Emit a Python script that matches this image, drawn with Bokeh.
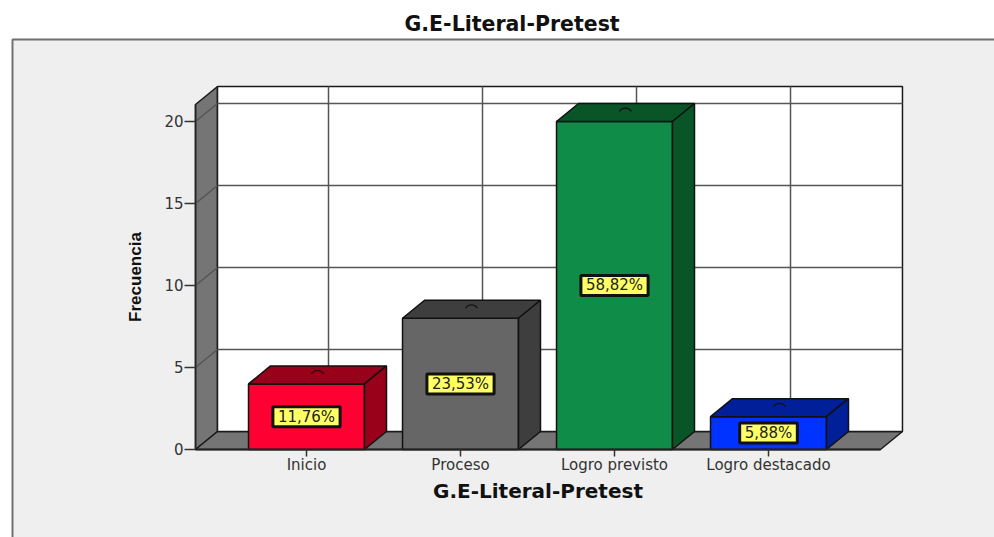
from bokeh.plotting import figure
from bokeh.models import ColumnDataSource, FixedTicker, LinearAxis, Range1d
from bokeh.core.properties import value
from bokeh.embed import file_html
from bokeh.resources import INLINE

categories = ["Inicio", "Proceso", "Logro previsto", "Logro destacado"]
frequencies = [4, 8, 20, 2]
percent_labels = ["11,76%", "23,53%", "58,82%", "5,88%"]
face_colors = ["#ff0033", "#666666", "#0f8c47", "#0033ff"]
shade_colors = ["#990019", "#3e3e3e", "#0a5528", "#001f99"]
y_ticks = [0, 5, 10, 15, 20]
title_text = "G.E-Literal-Pretest"
y_title = "Frecuencia"

# Chart geometry in data units
Y_TOP = 22.134
BAR_W = 0.753
DX, DY = 0.1429, 1.0976
X0, X1 = -0.7208, 3.727
XMIN, XMAX = -1.987, 4.4675
YMIN, YMAX = -5.366, 25.18
WIDE = "DejaVu Sans"

p = figure(width=994, height=537, output_backend="svg", toolbar_location=None,
           x_axis_location=None, y_axis_location=None,
           x_range=Range1d(XMIN, XMAX), y_range=Range1d(YMIN, YMAX),
           min_border=0, min_border_top=36, background_fill_color="white",
           border_fill_color="white", outline_line_color=None,
           title=title_text)
p.grid.visible = False
p.title.text_font = WIDE
p.title.text_font_size = "20.5px"
p.title.text_font_style = "bold"
p.title.text_color = "#111111"
p.title.align = "left"
p.title.offset = 404
p.title.vertical_align = "bottom"
p.title.standoff = 1

# grey chart panel, its right and bottom sides run off the page
p.patch([XMIN + 12 / 154, XMAX + 1, XMAX + 1, XMIN + 12 / 154],
        [YMAX - 3 / 16.4, YMAX - 3 / 16.4, YMIN - 1, YMIN - 1],
        fill_color="#efefef", line_color="#707070", line_width=2)

WALL = dict(fill_color="#757575", line_color="#1a1a1a", line_width=1.5)
# left wall and floor
p.patch([X0, X0 + DX, X0 + DX, X0], [0, DY, Y_TOP, Y_TOP - DY], **WALL)
p.patch([X0, X0 + DX, X1 + DX, X1], [0, DY, DY, 0], **WALL)
# back wall
p.patch([X0 + DX, X1 + DX, X1 + DX, X0 + DX], [DY, DY, Y_TOP, Y_TOP],
        fill_color="white", line_color="#1a1a1a", line_width=1.5)

GRID = dict(line_color="#555555", line_width=1.5)
grid_vals = [t for t in y_ticks if t > 0]
p.segment([X0 + DX] * len(grid_vals), [t + DY for t in grid_vals],
          [X1 + DX] * len(grid_vals), [t + DY for t in grid_vals], **GRID)
p.segment([X0] * len(grid_vals), grid_vals,
          [X0 + DX] * len(grid_vals), [t + DY for t in grid_vals], **GRID)
positions = list(range(len(categories)))
p.segment([i + DX for i in positions], [DY] * len(positions),
          [i + DX for i in positions], [Y_TOP] * len(positions), **GRID)

# bars
BAR_LINE = dict(line_color="#111111", line_width=1.5)
for i, v in enumerate(frequencies):
    l, r = i - BAR_W / 2, i + BAR_W / 2
    p.patch([l, r, r, l], [0, 0, v, v], fill_color=face_colors[i], **BAR_LINE)
    p.patch([l, r, r + DX, l + DX], [v, v, v + DY, v + DY], fill_color=shade_colors[i], **BAR_LINE)
    p.patch([r, r + DX, r + DX, r], [0, DY, v + DY, v], fill_color=shade_colors[i], **BAR_LINE)
    p.arc(x=[i + DX / 2], y=[v + 0.39], radius=7, radius_units="screen",
          start_angle=0.55, end_angle=2.6, line_color="#111111", line_width=1.2)

# percentage labels
src = ColumnDataSource(dict(x=positions, y=[v / 2 for v in frequencies], t=percent_labels))
p.text(x="x", y="y", text="t", source=src, text_align="center", text_baseline="middle",
       text_font=value(WIDE), text_font_size="15px", text_color="#222222",
       background_fill_color="#ffff66", border_line_color="#111111", border_line_width=3,
       padding=(5, 1))

# axes
xa = LinearAxis(fixed_location=0, bounds=(X0, X1),
                ticker=FixedTicker(ticks=positions),
                major_label_overrides={i: c for i, c in enumerate(categories)},
                axis_label=title_text)
xa.axis_line_color = "#222222"
xa.axis_line_width = 2
xa.major_tick_line_color = "#333333"
xa.major_tick_line_width = 1.5
xa.major_tick_in = 0
xa.major_tick_out = 7
xa.minor_tick_line_color = None
xa.major_label_text_font = WIDE
xa.major_label_text_font_size = "15px"
xa.major_label_text_color = "#333333"
xa.major_label_standoff = 0
xa.axis_label_text_font = WIDE
xa.axis_label_text_font_size = "20px"
xa.axis_label_text_font_style = "bold"
xa.axis_label_text_color = "#111111"
xa.axis_label_standoff = 1
p.add_layout(xa, "below")

ya = LinearAxis(fixed_location=X0, bounds=(0, Y_TOP - DY),
                ticker=FixedTicker(ticks=y_ticks), axis_label=y_title)
ya.axis_line_color = "#222222"
ya.axis_line_width = 1.5
ya.major_tick_line_color = "#333333"
ya.major_tick_line_width = 1.5
ya.major_tick_in = 0
ya.major_tick_out = 11
ya.minor_tick_line_color = None
ya.major_label_text_font = WIDE
ya.major_label_text_font_size = "15px"
ya.major_label_text_color = "#333333"
ya.major_label_standoff = 1
ya.axis_label_text_font = "Liberation Sans"
ya.axis_label_text_font_size = "17px"
ya.axis_label_text_font_style = "bold"
ya.axis_label_text_color = "#111111"
ya.axis_label_standoff = 16
p.add_layout(ya, "left")

open("out.html", "w").write(file_html(p, INLINE))
